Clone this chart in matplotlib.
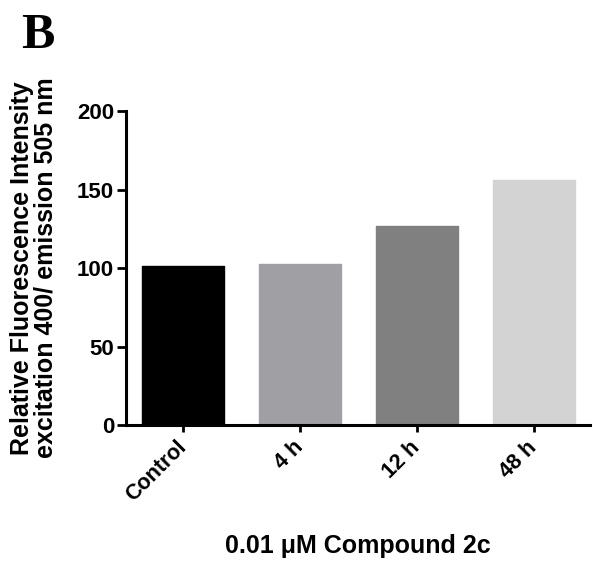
import matplotlib
matplotlib.use("Agg")
import matplotlib.pyplot as plt

# Data
categories = ['Control', '4 h', '12 h', '48 h']
values = [101, 102.5, 126.5, 156]
bar_colors = ['#000000', '#a0a0a4', '#808080', '#d3d3d3']
y_ticks = [0, 50, 100, 150, 200]

plt.rcParams['font.family'] = ['Liberation Sans', 'DejaVu Sans']
plt.rcParams['font.weight'] = 'bold'

fig = plt.figure(figsize=(5.93, 5.64), dpi=100)
ax = fig.add_axes([0.2125, 0.2465, 0.7825, 0.5565])

x = list(range(len(categories)))
ax.bar(x, values, width=0.7, color=bar_colors, edgecolor=bar_colors,
       linewidth=1.0, joinstyle='round')

ax.set_xlim(-0.49, 3.48)
ax.set_ylim(0, 200)
ax.set_yticks(y_ticks)
ax.set_xticks(x)
ax.set_xticklabels(categories, rotation=45, ha='right', va='center',
                   rotation_mode='anchor')

for side in ['top', 'right']:
    ax.spines[side].set_visible(False)
for side in ['left', 'bottom']:
    ax.spines[side].set_linewidth(2.2)
ax.tick_params(axis='y', length=6.5, width=2, labelsize=16, pad=2)
ax.tick_params(axis='x', length=5, width=2, labelsize=15.5, pad=9)
for lbl in ax.get_xticklabels() + ax.get_yticklabels():
    lbl.set_fontweight('bold')

ax.set_ylabel('Relative Fluorescence Intensity\nexcitation 400/ emission 505 nm',
              fontsize=18, fontweight='bold', labelpad=14, linespacing=1.0)
ax.set_xlabel('0.01 \u03bcM Compound 2c', fontsize=18, fontweight='bold',
              labelpad=20)

fig.text(0.035, 0.915, 'B', fontsize=36, fontweight='bold',
         family=['Liberation Serif', 'DejaVu Serif'])

fig.savefig('out.png', dpi=100)
